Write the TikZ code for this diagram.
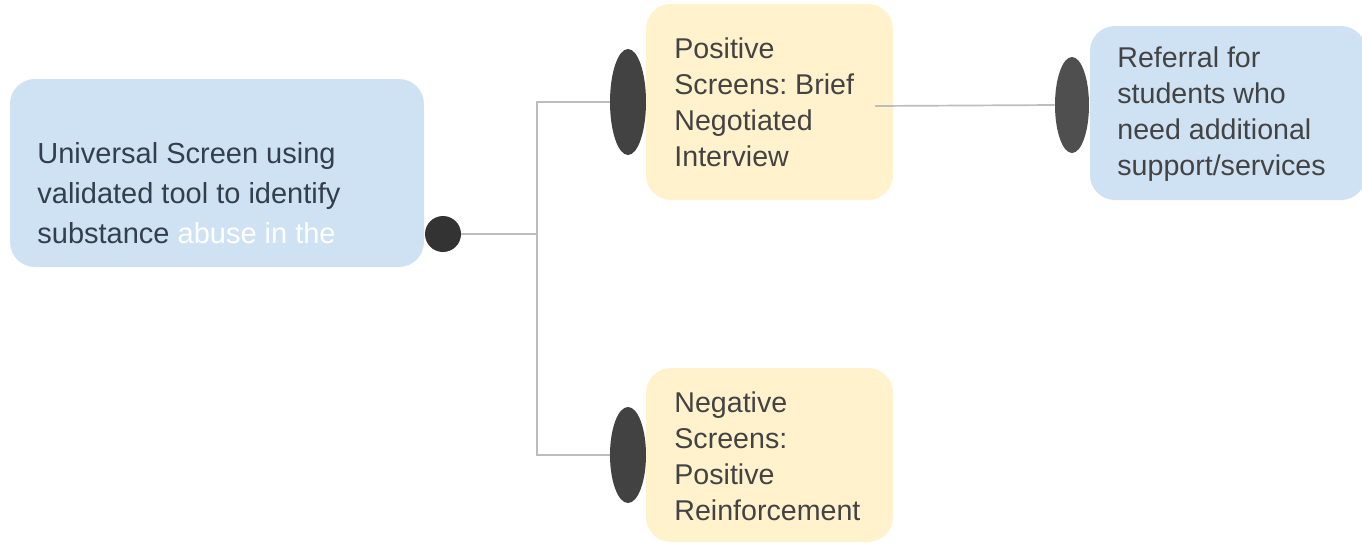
\documentclass[tikz,border=0pt]{standalone}
\usepackage{fontspec}
\setmainfont{Liberation Sans}
\frenchspacing
\usetikzlibrary{shapes.geometric}
\definecolor{boxblue}{HTML}{CFE2F3}
\definecolor{boxyellow}{HTML}{FFF2CC}
\definecolor{txtdark}{HTML}{434343}
\definecolor{txtblue}{HTML}{333E4F}
\definecolor{dotdark}{HTML}{333333}
\definecolor{elldark}{HTML}{424242}
\definecolor{ellmid}{HTML}{4F4F4F}
\definecolor{linkgray}{HTML}{BDBDBD}
\tikzset{
  card/.style={rounded corners=12.5pt, draw=none, inner sep=0pt, outer sep=0pt},
  cardtext/.style={font=\fontsize{14.3}{18}\selectfont\frenchspacing, text=txtdark, align=left, inner sep=0pt},
  pin/.style={ellipse, draw=none, inner sep=0pt, minimum width=18pt},
  link/.style={draw=linkgray, line width=0.85pt},
}
\begin{document}
\begin{tikzpicture}[x=0.5pt, y=-0.5pt]
\useasboundingbox (0,0) rectangle (1362,542);
% left box
\node[card, fill=boxblue, minimum width=207pt, minimum height=94pt] (uni) at (217,173) {};
\node[cardtext, text=txtblue, font=\fontsize{14.5}{20}\selectfont\frenchspacing, anchor=west] (unitext) at (37,193)
  {Universal Screen using\\validated tool to identify\\substance \textcolor{white}{abuse in the}};
% dot
\node[circle, fill=dotdark, inner sep=0pt, minimum size=18pt] (dot) at (443,234) {};
\coordinate (junc) at (537,234);
% positive box
\node[pin, fill=elldark, minimum height=53pt] (e1) at (628,102) {};
\node[card, fill=boxyellow, minimum width=123.5pt, minimum height=98pt] (pos) at (769.5,102) {};
\node[cardtext, anchor=west] (postext) at (674,102) {Positive\\Screens: Brief\\Negotiated\\Interview};
% negative box
\node[pin, fill=elldark, minimum height=48pt] (e2) at (628,455) {};
\node[card, fill=boxyellow, minimum width=123.5pt, minimum height=87pt] (neg) at (769.5,455) {};
\node[cardtext, anchor=west] (negtext) at (674,456) {Negative\\Screens:\\Positive\\Reinforcement};
% referral box
\node[pin, fill=ellmid, minimum width=17pt, minimum height=48pt] (e3) at (1072,105) {};
\node[card, fill=boxblue, minimum width=138pt, minimum height=87pt] (ref) at (1228,113) {};
\node[cardtext, anchor=west] (reftext) at (1117,114) {Referral for\\students who\\need additional\\support/services};
% connectors
\coordinate (pstart) at (875,106);
\draw[link] (dot) -- (junc);
\draw[link] (junc) |- (e1.west);
\draw[link] (junc) |- (e2.west);
\draw[link] (pstart) -- (e3.west);
\end{tikzpicture}
\end{document}
